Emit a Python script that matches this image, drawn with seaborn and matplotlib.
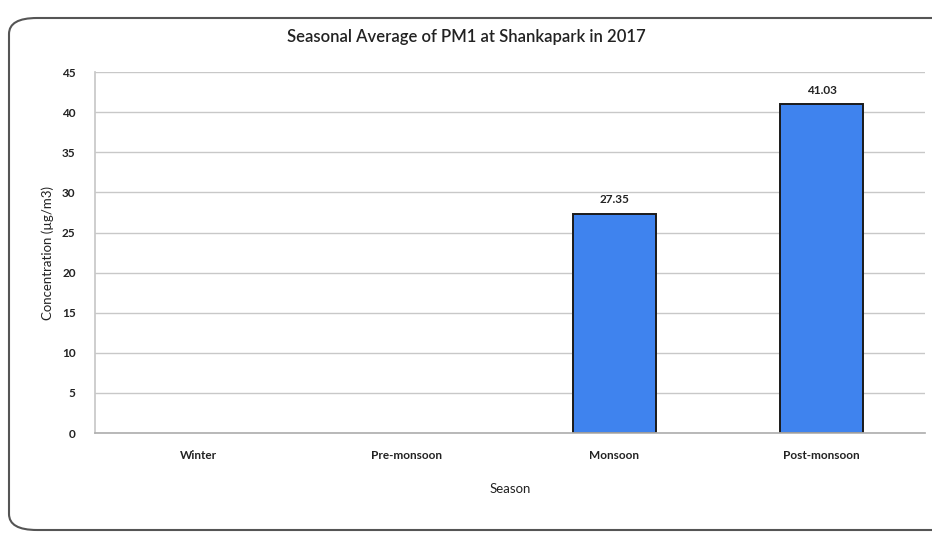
import numpy as np
import pandas as pd
import matplotlib
matplotlib.use("Agg")
import matplotlib.pyplot as plt
import seaborn as sns
from matplotlib.patches import FancyBboxPatch

seasons = ["Winter", "Pre-monsoon", "Monsoon", "Post-monsoon"]
pm1_avg = [np.nan, np.nan, 27.35, 41.03]
y_ticks = [0, 5, 10, 15, 20, 25, 30, 35, 40, 45]

df = pd.DataFrame({"Season": seasons, "PM1": pm1_avg})

sns.set_theme(style="white")
plt.rcParams["font.family"] = ["Lato", "DejaVu Sans"]

fig = plt.figure(figsize=(9.32, 5.34), dpi=100)
ax = fig.add_axes([0.102, 0.189, 0.891, 0.676])

sns.barplot(data=df, x="Season", y="PM1", order=seasons, color="#3F83EE",
            saturation=1, width=0.4, edgecolor="#1a1a1a", linewidth=1.4, ax=ax)

for i, v in enumerate(pm1_avg):
    if not np.isnan(v):
        ax.annotate(f"{v:.2f}", (i, v), xytext=(0, 6), textcoords="offset points",
                    ha="center", va="bottom", fontsize=8.5, fontweight="bold", color="#222222")

ax.set_ylim(0, 45)
ax.set_xlim(-0.5, 3.5)
ax.set_yticks(y_ticks)
ax.yaxis.grid(True, color="#c8c8c8", linewidth=1)
ax.set_axisbelow(True)
ax.tick_params(axis="both", length=0, labelsize=8.5, colors="#222222")
ax.tick_params(axis="y", pad=14)
ax.tick_params(axis="x", pad=12)
for lab in ax.get_xticklabels() + ax.get_yticklabels():
    lab.set_fontweight("bold")

for side in ["top", "right"]:
    ax.spines[side].set_visible(False)
ax.spines["left"].set_color("#c8c8c8")
ax.spines["bottom"].set_color("#b0b0b0")

ax.set_xlabel("Season", fontsize=9.5, color="#222222", labelpad=16)
ax.set_ylabel("Concentration (\u00b5g/m3)", fontsize=9.5, color="#222222", labelpad=6)
fig.suptitle("Seasonal Average of PM1 at Shankapark in 2017", fontsize=12,
             fontweight="semibold", y=0.945, color="#222222")

border = FancyBboxPatch((9 / 932, 4 / 534), 980 / 932, 512 / 534,
                        boxstyle="round,pad=0,rounding_size=0.03",
                        transform=fig.transFigure, fill=False,
                        edgecolor="#555555", linewidth=1.5)
fig.patches.append(border)

fig.savefig("out.png", dpi=100)
